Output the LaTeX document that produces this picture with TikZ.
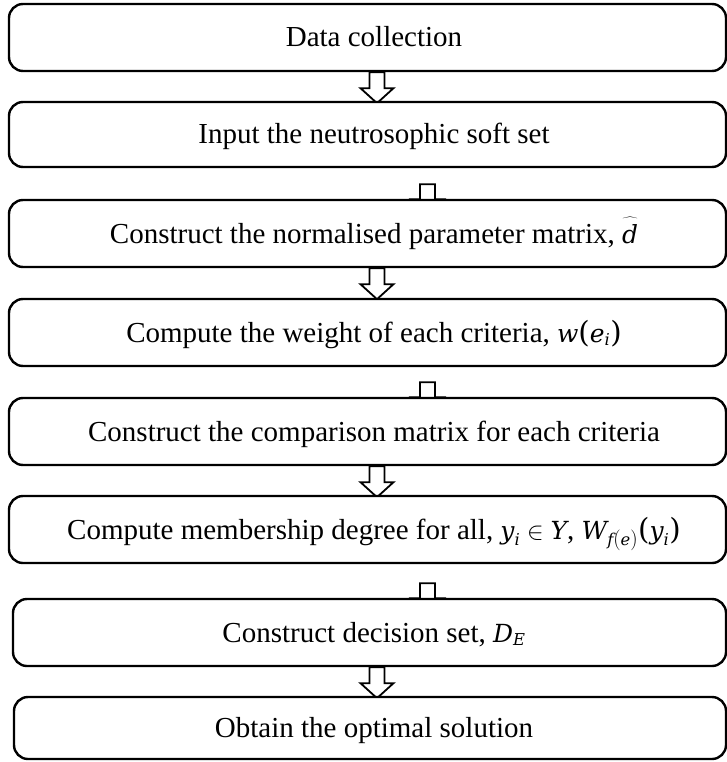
\documentclass[tikz,border=0pt]{standalone}
\usepackage{fontspec}
\setmainfont{Liberation Serif}
\newfontfamily\mfont{DejaVu Serif}[Scale=0.86]
\usetikzlibrary{calc,backgrounds}

% italic symbols used in the formulas
\newcommand\mi[1]{\hbox{\mfont\itshape #1}}
\newcommand\ms[1]{\hbox{\mfont\itshape\fontsize{19}{20}\selectfont #1}}
\newcommand\mparen[1]{\hbox{\mfont\fontsize{34}{34}\selectfont #1}}

\tikzset{
  stepbox/.style={draw, line width=2.4pt, rounded corners=14pt, fill=white,
                  inner sep=0pt, minimum height=67pt},
  lbl/.style={font=\fontsize{29}{33}\selectfont, inner sep=0pt, anchor=base},
  flowarrow/.style={draw, line width=1.8pt, fill=white, line join=miter},
  pics/downarrow/.style={code={
    \draw[flowarrow] (-7.5,0) -- (-7.5,16) -- (-16.5,16) -- (0,31)
                     -- (16.5,16) -- (7.5,16) -- (7.5,0) -- cycle;}},
  pics/stubarrow/.style={code={
    \draw[flowarrow] (-7.5,0) -- (-7.5,15) -- (-16.5,15) -- (0,30)
                     -- (16.5,15) -- (7.5,15) -- (7.5,0) -- cycle;}}
}

\begin{document}
\begin{tikzpicture}[x=1pt,y=-1pt]
  \useasboundingbox (0,0) rectangle (727,762);

  % process steps
  \node[stepbox, minimum width=717pt] (b1) at (367.5,37.5) {};
  \node[stepbox, minimum width=717pt, minimum height=65pt] (b2) at (367.5,134.5) {};
  \node[stepbox, minimum width=717pt] (b3) at (367.5,233.5) {};
  \node[stepbox, minimum width=717pt] (b4) at (367.5,332.5) {};
  \node[stepbox, minimum width=717pt] (b5) at (367.5,431.5) {};
  \node[stepbox, minimum width=717pt] (b6) at (367.5,529.5) {};
  \node[stepbox, minimum width=713pt] (b7) at (369.5,632.5) {};
  \node[stepbox, minimum width=712pt, minimum height=62pt] (b8) at (370,728) {};

  % step texts
  \node[lbl] (t1) at ($(b1.center)+(6.5,9.5)$) {Data collection};
  \node[lbl] (t2) at ($(b2.center)+(6.5,9.5)$) {Input the neutrosophic soft set};
  \node[lbl] (t3) at ($(b3.center)+(6.5,9.5)$)
    {Construct the normalised parameter matrix, $\widehat{\mi{d}\rule{0pt}{23pt}}$};
  \node[lbl] (t4) at ($(b4.center)+(6.5,9.5)$)
    {Compute the weight of each criteria, $\mi{w}\mparen{(}\mi{e}_{\ms{i}}\mparen{)}$};
  \node[lbl] (t5) at ($(b5.center)+(6.5,9.5)$) {Construct the comparison matrix for each criteria};
  \node[lbl] (t6) at ($(b6.center)+(6.5,9.5)$)
    {Compute membership degree for all, $\mi{y}_{\ms{i}}\in\mi{Y}$, $\mi{W}_{\ms{f}(\ms{e})}\mparen{(}\mi{y}_{\ms{i}}\mparen{)}$};
  \node[lbl] (t7) at ($(b7.center)+(4.5,9.5)$) {Construct decision set, $\mi{D}_{\ms{E}}$};
  \node[lbl] (t8) at ($(b8.center)+(4,9.5)$) {Obtain the optimal solution};

  % hollow arrows between the steps (partly hidden under the boxes)
  \begin{scope}[on background layer]
    \pic at ($(b1.south)+(9.5,0)$) {downarrow};
    \pic at ($(b2.south)+(60,16)$) {stubarrow};
    \pic at ($(b3.south)+(9.5,0)$) {downarrow};
    \pic at ($(b4.south)+(60,15)$) {stubarrow};
    \pic at ($(b5.south)+(9.5,0)$) {downarrow};
    \pic at ($(b6.south)+(60,19)$) {stubarrow};
    \pic at ($(b7.south)+(7.5,0)$) {downarrow};
  \end{scope}
\end{tikzpicture}
\end{document}
